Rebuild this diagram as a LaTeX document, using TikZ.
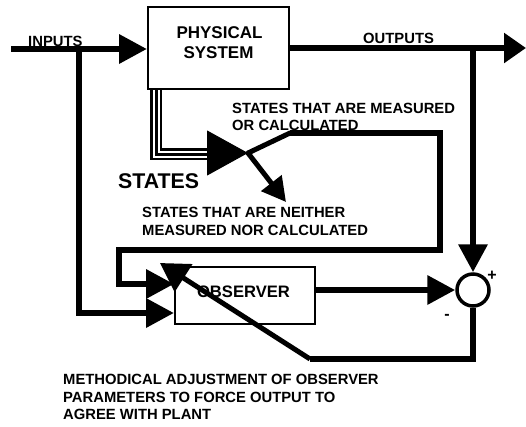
\documentclass[tikz,border=0pt]{standalone}
\usepackage{fontspec}
\setmainfont{Liberation Sans}
\usetikzlibrary{arrows.meta}
\begin{document}
\begin{tikzpicture}[x=1pt,y=-1pt,
  heavy/.style={line width=6.5pt},
  blade/.style={line width=5pt},
  box/.style={draw,line width=2pt,inner sep=0pt},
  lbl/.style={font=\bfseries\fontsize{14.8}{17.5}\selectfont, inner sep=0pt, align=left},
  bigtip/.style={-{Triangle[length=28pt,width=28pt]}},
  line join=miter]
\useasboundingbox (0,0) rectangle (526,426);
% boxes
\node[box,minimum width=141pt,minimum height=82pt] (phys) at (218.5,48) {};
\node[font=\bfseries\fontsize{17}{20}\selectfont, inner sep=0pt, anchor=base] (physA) at (219.5,38) {PHYSICAL};
\node[font=\bfseries\fontsize{17}{20}\selectfont, inner sep=0pt, anchor=base] (physB) at (218.5,58) {SYSTEM};
\node[box,minimum width=140pt,minimum height=57pt] (obs) at (245,295.5) {};
\node[font=\bfseries\fontsize{16.6}{20}\selectfont, inner sep=0pt] (obsT) at (243.5,291.5) {OBSERVER};
\node[circle,draw,line width=3.5pt,minimum size=32pt,inner sep=0pt] (sum) at (473,290) {};
% coordinates
\coordinate (inS) at (11,49);
\coordinate (inJ) at (79,49);
\coordinate (inC) at (79,313);
\coordinate (outE) at (526,48);
\coordinate (outJ) at (473,48);
\coordinate (fbA) at (473,359);
\coordinate (fbB) at (310,359);
\coordinate (fbT) at (160,263);
\coordinate (stS) at (156,90);
\coordinate (stC) at (156,154);
\coordinate (stE) at (208,154);
\coordinate (stA) at (200,153);
\coordinate (sw) at (248,153);
\coordinate (bl1) at (290,133);
\coordinate (bl2) at (440,133);
\coordinate (bl3) at (440,250);
\coordinate (bl4) at (119,250);
\coordinate (bl5) at (119,284);
\coordinate (nm) at (286,202);
% inputs
\draw[heavy,bigtip] (inS) -- (inS -| phys.west);
\draw[heavy,bigtip] (inJ) -- (inC) -- (inC -| obs.west);
% outputs
\draw[heavy,-{Triangle[length=22pt,width=29pt]}] (phys.east) -- (outE);
\draw[heavy,bigtip] (outJ) -- (sum.north);
% observer output
\draw[heavy,bigtip] (obs.east |- sum.west) -- (sum.west);
% feedback
\draw[heavy] (sum.south) -- (fbA) -- (fbB);
\draw[blade,-{Triangle[length=28pt,width=32pt]}] (fbB) -- (fbT);
% states triple line
\draw[line width=12pt, postaction={draw,white,line width=7pt}, postaction={draw,line width=3pt}] (stS) -- (stC) -- (stE);
\draw[line width=1pt,-{Triangle[length=41pt,width=45pt]}] (stA) -- (sw);
% switch
\draw[blade,line cap=round] (sw) -- (bl1);
\draw[heavy,bigtip] (bl1) -- (bl2) -- (bl3) -- (bl4) -- (bl5) -- (bl5 -| obs.west);
\draw[blade,-{Triangle[length=24pt,width=25pt]}] (sw) -- (nm);
% labels
\node[lbl, anchor=base west] (tIn) at (28,46) {INPUTS};
\node[lbl, anchor=base west] (tOut) at (363,43) {OUTPUTS};
\node[lbl, anchor=north west] (tMeas) at (232,102.5) {STATES THAT ARE MEASURED\\OR CALCULATED};
\node[font=\bfseries\fontsize{21.3}{24}\selectfont, inner sep=0pt, anchor=base west] (tStates) at (118,188) {STATES};
\node[lbl, anchor=north west] (tNeither) at (142,207.4) {STATES THAT ARE NEITHER\\MEASURED NOR CALCULATED};
\node[lbl, anchor=north west] (tMeth) at (63,374.4) {METHODICAL ADJUSTMENT OF OBSERVER\\PARAMETERS TO FORCE OUTPUT TO\\AGREE WITH PLANT};
\node[font=\bfseries\fontsize{16}{18}\selectfont, inner sep=0pt] (tPlus) at (492,276) {+};
\node[font=\bfseries\fontsize{16}{18}\selectfont, inner sep=0pt] (tMinus) at (447,317) {-};
\end{tikzpicture}
\end{document}
